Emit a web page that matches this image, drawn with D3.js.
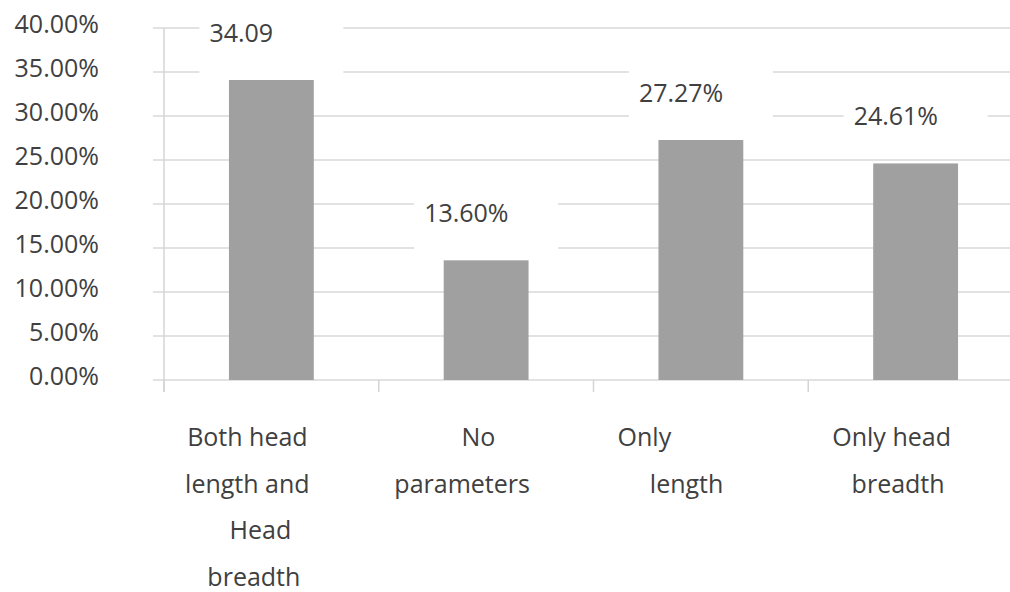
<!DOCTYPE html>
<html>
<head>
<meta charset="utf-8">
<script src="https://cdn.jsdelivr.net/npm/d3@7"></script>
<style>
  html, body { margin: 0; padding: 0; background: #ffffff; }
  svg { display: block; }
  text { font-family: "Open Sans", "DejaVu Sans", sans-serif; fill: #404040; }
</style>
</head>
<body>
<svg id="chart" width="1010" height="592"></svg>
<script>
// Share of cases by head parameter used
const categories = ["Both head length and Head breadth", "No parameters", "Only length", "Only head breadth"];
// Wrapped category text, one entry per line (spacing keeps the original indentation)
const categoryLines = [
  ["Both head", "length and", "    Head", "  breadth"],
  ["     No", "parameters"],
  ["Only          ", "   length"],
  ["Only head", "  breadth"]
];
const values = [34.09, 13.60, 27.27, 24.61];
const valueLabels = ["34.09", "13.60%", "27.27%", "24.61%"];
const yTicks = [0, 5, 10, 15, 20, 25, 30, 35, 40];

const svg = d3.select("#chart");
const W = 1010;

const x = d3.scaleBand().domain(categories).range([164, 1023]).paddingInner(0).paddingOuter(0);
const y = d3.scaleLinear().domain([0, 40]).range([380, 28]);
const barW = x.bandwidth() * 0.395;
const cx = c => x(c) + x.bandwidth() / 2;

// Horizontal gridlines
svg.append("g").selectAll("line").data(yTicks).join("line")
  .attr("x1", 153).attr("x2", W)
  .attr("y1", d => y(d)).attr("y2", d => y(d))
  .attr("stroke", "#d9d9d9").attr("stroke-width", 1.5);

// Vertical axis line and category separator ticks
svg.append("line")
  .attr("x1", 164).attr("x2", 164)
  .attr("y1", y(40)).attr("y2", y(0) + 12)
  .attr("stroke", "#d4d4d4").attr("stroke-width", 1.5);
const sepX = categories.map(c => x(c)).concat([x.range()[1]]);
svg.append("g").selectAll("line").data(sepX).join("line")
  .attr("x1", d => d).attr("x2", d => d)
  .attr("y1", y(0)).attr("y2", y(0) + 12)
  .attr("stroke", "#d4d4d4").attr("stroke-width", 1.5);

// Y-axis tick labels
svg.append("g").selectAll("text").data(yTicks).join("text")
  .attr("x", 99).attr("y", d => y(d) + 5)
  .attr("text-anchor", "end")
  .style("font-size", "25px")
  .text(d => d3.format(".2f")(d) + "%");

// White backgrounds behind the data labels
svg.append("g").selectAll("rect").data(categories).join("rect")
  .attr("x", c => cx(c) - 72)
  .attr("y", (c, i) => y(values[i]) - 69)
  .attr("width", 144).attr("height", 64)
  .attr("fill", "#ffffff");

// Bars
svg.append("g").selectAll("rect").data(categories).join("rect")
  .attr("x", c => cx(c) - barW / 2)
  .attr("y", (c, i) => y(values[i]))
  .attr("width", barW)
  .attr("height", (c, i) => y(0) - y(values[i]))
  .attr("fill", "#a0a0a0");

// Data labels
svg.append("g").selectAll("text").data(categories).join("text")
  .attr("x", c => cx(c) - 62)
  .attr("y", (c, i) => y(values[i]) - 38)
  .style("font-size", "25px")
  .text((c, i) => valueLabels[i]);

// Category labels
const catG = svg.append("g");
categories.forEach((c, i) => {
  catG.selectAll(null).data(categoryLines[i]).join("text")
    .attr("x", cx(c) - 24)
    .attr("y", (d, j) => y(0) + 66 + j * 46.7)
    .attr("text-anchor", "middle")
    .attr("xml:space", "preserve")
    .style("white-space", "pre")
    .style("font-size", "25px")
    .text(d => d);
});
</script>
</body>
</html>
